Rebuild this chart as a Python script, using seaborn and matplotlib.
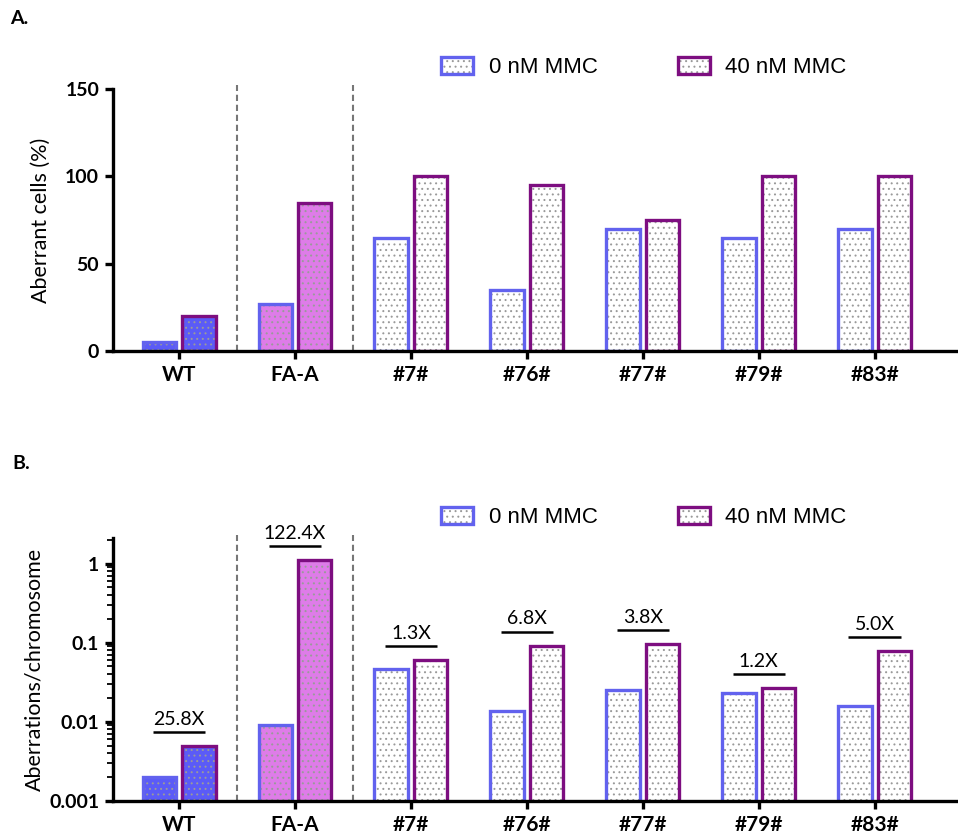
import pandas as pd
import matplotlib
matplotlib.use('Agg')
import matplotlib.pyplot as plt
from matplotlib.patches import Patch
from matplotlib.colors import to_rgba
from matplotlib.ticker import NullFormatter
import seaborn as sns

lines = ['WT', 'FA-A', '#7#', '#76#', '#77#', '#79#', '#83#']
doses = ['0 nM MMC', '40 nM MMC']

# panel A: % aberrant cells
aberrant_0 = [5, 27, 65, 35, 70, 65, 70]
aberrant_40 = [20, 85, 100, 95, 75, 100, 100]

# panel B: aberrations per chromosome
per_chrom_0 = [0.002, 0.009, 0.047, 0.0135, 0.0255, 0.0228, 0.0157]
per_chrom_40 = [0.0049, 1.12, 0.061, 0.092, 0.097, 0.027, 0.079]
fold_labels = ['25.8X', '122.4X', '1.3X', '6.8X', '3.8X', '1.2X', '5.0X']

edge_colors = ['#6262ee', '#7d0e80']
fill_colors = ['#5b5bf7', '#de7ce8', 'white', 'white', 'white', 'white', 'white']
dot_color = '#9a9a9a'

sns.set_style('ticks')
plt.rcParams['font.family'] = ['Lato', 'DejaVu Sans']
plt.rcParams['hatch.linewidth'] = 0.7
plt.rcParams['axes.edgecolor'] = 'black'
plt.rcParams['xtick.color'] = 'black'
plt.rcParams['ytick.color'] = 'black'
plt.rcParams['text.color'] = 'black'
plt.rcParams['axes.labelcolor'] = 'black'


def long_df(v0, v40):
    return pd.DataFrame({'line': lines * 2,
                         'dose': [doses[0]] * len(lines) + [doses[1]] * len(lines),
                         'value': v0 + v40})


def draw_panel(ax, df):
    sns.barplot(data=df, x='line', y='value', hue='dose', order=lines, hue_order=doses,
                width=0.68, gap=0.15, palette=edge_colors, saturation=1, legend=False, ax=ax)
    for k, cont in enumerate(ax.containers):
        for bar in cont:
            i = int(round(bar.get_x() + bar.get_width() / 2))
            bar.set_facecolor(fill_colors[i])
            bar.set_edgecolor(edge_colors[k])
            bar.set_linewidth(2.4)
            bar.set_hatch('...')
            bar._hatch_color = to_rgba(dot_color)
    ax.set_xlim(-0.57, 6.72)
    ax.set_xticks(range(len(lines)), lines, fontweight='bold', fontsize=15)
    ax.set_xlabel('')
    for s in ['top', 'right']:
        ax.spines[s].set_visible(False)
    for s in ['left', 'bottom']:
        ax.spines[s].set_linewidth(2.4)
    ax.tick_params(axis='both', which='major', width=2.4, length=6, pad=4)


def add_legend(fig, y):
    handles = []
    for c in edge_colors:
        h = Patch(facecolor='white', edgecolor=c, linewidth=2.4, hatch='...')
        h._hatch_color = to_rgba(dot_color)
        handles.append(h)
    fig.legend(handles, doses, loc='center', bbox_to_anchor=(0.672, y), ncol=2, frameon=False,
               prop={'family': 'Liberation Sans', 'size': 16}, handlelength=1.45,
               handleheight=0.75, handletextpad=0.7, columnspacing=3.6)


fig = plt.figure(figsize=(9.58, 8.38), dpi=100)
ax_a = fig.add_axes([0.118, 0.581, 0.882, 0.3126])
ax_b = fig.add_axes([0.118, 0.0442, 0.882, 0.3138])

# ---- A ----
draw_panel(ax_a, long_df(aberrant_0, aberrant_40))
ax_a.set_ylim(0, 150)
ax_a.set_yticks([0, 50, 100, 150], ['0', '50', '100', '150'], fontweight='bold', fontsize=14)
ax_a.set_ylabel('Aberrant cells (%)', fontsize=15.5, labelpad=10)
for xv in [0.5, 1.5]:
    ax_a.axvline(xv, ymin=0, ymax=1.015, color='#777777', lw=1.5, ls=(0, (3, 1.8)), clip_on=False)

# ---- B ----
draw_panel(ax_b, long_df(per_chrom_0, per_chrom_40))
ax_b.set_yscale('log')
ax_b.set_ylim(0.001, 2.1)
ax_b.set_yticks([0.001, 0.01, 0.1, 1], ['0.001', '0.01', '0.1', '1'], fontweight='bold', fontsize=14)
ax_b.yaxis.set_minor_formatter(NullFormatter())
ax_b.tick_params(axis='y', which='minor', length=4, width=1.3)
ax_b.set_ylabel('Aberrations/chromosome', fontsize=15.5, labelpad=3)
for xv in [0.5, 1.5]:
    ax_b.axvline(xv, ymin=0, ymax=1.01, color='#777777', lw=1.5, ls=(0, (3, 1.8)), clip_on=False)

for i, lab in enumerate(fold_labels):
    y = max(per_chrom_0[i], per_chrom_40[i]) * 1.5
    ax_b.plot([i - 0.225, i + 0.225], [y, y], color='black', lw=1.8, solid_capstyle='butt',
              clip_on=False)
    ax_b.annotate(lab, (i, y), xytext=(0, 3), textcoords='offset points',
                  ha='center', va='bottom', fontsize=14, annotation_clip=False)

add_legend(fig, 0.919)
add_legend(fig, 0.382)

fig.text(0.011, 0.978, 'A.', fontsize=14, fontweight='bold', va='center')
fig.text(0.013, 0.447, 'B.', fontsize=14, fontweight='bold', va='center')

fig.savefig('out.png', dpi=100)
